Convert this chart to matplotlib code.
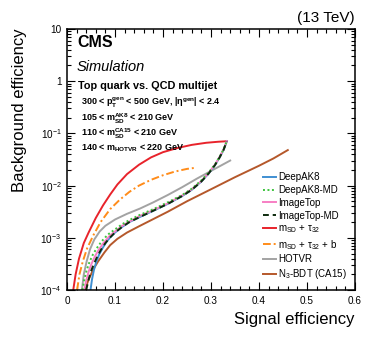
import numpy as np
import matplotlib
matplotlib.use("Agg")
import matplotlib.pyplot as plt
from matplotlib.lines import Line2D

plt.rcParams['font.family'] = ['Liberation Sans', 'DejaVu Sans']
plt.rcParams['mathtext.default'] = 'regular'

# ROC curves (signal eff., background eff.)
deepak8_x = [0.049, 0.052, 0.056, 0.061, 0.067, 0.074, 0.082, 0.09, 0.1, 0.115, 0.13, 0.152, 0.18, 0.21, 0.24,
             0.26, 0.28, 0.295, 0.308, 0.318, 0.326, 0.333]
deepak8_y = [1.0e-4, 1.58e-4, 2.4e-4, 3.47e-4, 4.79e-4, 6.31e-4, 8.32e-4, 1.02e-3, 1.26e-3, 1.62e-3, 2.0e-3,
             2.51e-3, 3.31e-3, 4.47e-3, 6.31e-3, 8.32e-3, 1.2e-2, 1.7e-2, 2.45e-2, 3.47e-2, 4.79e-2, 7.08e-2]
deepak8md_x = [0.032, 0.036, 0.041, 0.047, 0.054, 0.062, 0.072, 0.085, 0.1, 0.115, 0.13, 0.152, 0.18, 0.21, 0.24,
               0.26, 0.28, 0.295, 0.308, 0.318, 0.326, 0.333]
deepak8md_y = [1.0e-4, 1.58e-4, 2.4e-4, 3.47e-4, 4.79e-4, 6.31e-4, 8.51e-4, 1.15e-3, 1.45e-3, 1.82e-3, 2.19e-3,
               2.75e-3, 3.55e-3, 4.79e-3, 6.61e-3, 8.71e-3, 1.26e-2, 1.78e-2, 2.51e-2, 3.55e-2, 4.9e-2, 7.08e-2]
imagetop_x = [0.036, 0.04, 0.045, 0.051, 0.058, 0.066, 0.076, 0.088, 0.1, 0.115, 0.13, 0.152, 0.18, 0.21, 0.24,
              0.26, 0.28, 0.295, 0.308, 0.318, 0.326, 0.333]
imagetop_y = [1.0e-4, 1.51e-4, 2.24e-4, 3.16e-4, 4.37e-4, 5.89e-4, 7.94e-4, 1.07e-3, 1.32e-3, 1.7e-3, 2.04e-3,
              2.63e-3, 3.39e-3, 4.57e-3, 6.46e-3, 8.51e-3, 1.23e-2, 1.74e-2, 2.51e-2, 3.55e-2, 4.9e-2, 7.08e-2]
imagetopmd_x = [0.04, 0.045, 0.05, 0.056, 0.063, 0.07, 0.08, 0.09, 0.1, 0.115, 0.13, 0.152, 0.18, 0.21, 0.24,
                0.26, 0.28, 0.295, 0.308, 0.318, 0.326, 0.333]
imagetopmd_y = [1.0e-4, 1.58e-4, 2.29e-4, 3.16e-4, 4.37e-4, 5.75e-4, 7.94e-4, 1.02e-3, 1.26e-3, 1.62e-3, 2.0e-3,
                2.51e-3, 3.31e-3, 4.47e-3, 6.31e-3, 8.32e-3, 1.2e-2, 1.7e-2, 2.45e-2, 3.47e-2, 4.79e-2, 7.08e-2]
msdtau_x = [0.013, 0.018, 0.025, 0.035, 0.045, 0.06, 0.075, 0.09, 0.105, 0.125, 0.15, 0.175, 0.2, 0.23, 0.26,
            0.29, 0.315, 0.333]
msdtau_y = [1.0e-4, 2.0e-4, 3.98e-4, 7.94e-4, 1.26e-3, 2.4e-3, 4.17e-3, 6.76e-3, 1.05e-2, 1.66e-2, 2.51e-2,
            3.47e-2, 4.37e-2, 5.25e-2, 6.03e-2, 6.61e-2, 6.92e-2, 7.08e-2]
msdtaub_x = [0.021, 0.026, 0.033, 0.042, 0.055, 0.07, 0.09, 0.11, 0.13, 0.15, 0.175, 0.2, 0.225, 0.25, 0.267]
msdtaub_y = [1.0e-4, 2.0e-4, 3.55e-4, 6.31e-4, 1.12e-3, 2.0e-3, 3.55e-3, 5.37e-3, 7.59e-3, 1.0e-2, 1.29e-2,
             1.58e-2, 1.86e-2, 2.09e-2, 2.19e-2]
hotvr_x = [0.031, 0.035, 0.041, 0.048, 0.057, 0.068, 0.08, 0.1, 0.125, 0.152, 0.18, 0.21, 0.24, 0.27, 0.3,
           0.32, 0.34]
hotvr_y = [1.0e-4, 2.0e-4, 3.55e-4, 6.03e-4, 9.33e-4, 1.32e-3, 1.7e-3, 2.24e-3, 2.88e-3, 3.63e-3, 4.79e-3,
           6.61e-3, 9.33e-3, 1.35e-2, 1.91e-2, 2.4e-2, 3.02e-2]
n3bdt_x = [0.037, 0.045, 0.055, 0.065, 0.078, 0.09, 0.105, 0.125, 0.15, 0.18, 0.21, 0.25, 0.3, 0.35, 0.4, 0.43, 0.46]
n3bdt_y = [1.0e-4, 1.58e-4, 2.51e-4, 3.55e-4, 5.25e-4, 7.24e-4, 9.55e-4, 1.26e-3, 1.66e-3, 2.29e-3, 3.16e-3,
           5.01e-3, 8.51e-3, 1.45e-2, 2.4e-2, 3.31e-2, 4.79e-2]

labels = ['DeepAK8', 'DeepAK8-MD', 'ImageTop', 'ImageTop-MD',
          r'$m_{SD}$ + $\tau_{32}$', r'$m_{SD}$ + $\tau_{32}$ + b', 'HOTVR', r'N$_{3}$-BDT (CA15)']
xticks = [0, 0.1, 0.2, 0.3, 0.4, 0.5, 0.6]
xticklabels = ['0', '0.1', '0.2', '0.3', '0.4', '0.5', '0.6']
yticks = [1e-4, 1e-3, 1e-2, 1e-1, 1, 10]
yticklabels = [r'$10^{-4}$', r'$10^{-3}$', r'$10^{-2}$', r'$10^{-1}$', '1', '10']

W, H = 374, 343
fig = plt.figure(figsize=(W / 100, H / 100), dpi=100)
ax = fig.add_axes([67 / W, 1 - 290 / H, 288 / W, 261 / H])

def fx(px):
    return px / W

def fy(py):
    return 1 - py / H

lw = 1.4
styles = {
    'deepak8': dict(color='#3f8fd2', lw=lw),
    'deepak8md': dict(color='#3ec43e', lw=lw, ls=(0, (1, 1.3))),
    'imagetop': dict(color='#f77fc4', lw=lw),
    'imagetopmd': dict(color='#0d2b0d', lw=lw, ls=(0, (3, 2))),
    'msdtau': dict(color='#e8232b', lw=lw),
    'msdtaub': dict(color='#ff8c1a', lw=lw, ls=(0, (4, 1.5, 1, 1.5))),
    'hotvr': dict(color='#a3a3a3', lw=lw),
    'n3bdt': dict(color='#b5582b', lw=lw),
}

ax.plot(n3bdt_x, n3bdt_y, **styles['n3bdt'])
ax.plot(hotvr_x, hotvr_y, **styles['hotvr'])
ax.plot(msdtaub_x, msdtaub_y, **styles['msdtaub'])
ax.plot(msdtau_x, msdtau_y, **styles['msdtau'])
ax.plot(deepak8_x, deepak8_y, **styles['deepak8'])
ax.plot(imagetop_x, imagetop_y, **styles['imagetop'])
ax.plot(deepak8md_x, deepak8md_y, **styles['deepak8md'])
ax.plot(imagetopmd_x, imagetopmd_y, **styles['imagetopmd'])

ax.set_yscale('log')
ax.set_xlim(0, 0.6)
ax.set_ylim(1e-4, 10)
ax.set_xticks(xticks)
ax.set_xticklabels(xticklabels)
ax.set_yticks(yticks)
ax.set_yticklabels(yticklabels)
ax.xaxis.set_minor_locator(matplotlib.ticker.MultipleLocator(0.02))
ax.yaxis.set_minor_locator(matplotlib.ticker.LogLocator(base=10, subs=np.arange(2, 10)))
ax.yaxis.set_minor_formatter(matplotlib.ticker.NullFormatter())
ax.tick_params(which='both', direction='in', top=True, right=True, labelsize=7.2, width=0.8)
ax.tick_params(which='major', length=6, pad=4)
ax.tick_params(which='minor', length=3)
for s in ax.spines.values():
    s.set_linewidth(1.1)

# legend
order = ['deepak8', 'deepak8md', 'imagetop', 'imagetopmd', 'msdtau', 'msdtaub', 'hotvr', 'n3bdt']
handles = [Line2D([], [], **styles[k]) for k in order]
ax.legend(handles, labels, loc='lower left', bbox_to_anchor=((263 - 67) / 288, (290 - 281) / 261),
          frameon=False, fontsize=7, handlelength=1.3, handletextpad=0.25,
          labelspacing=0.28, borderpad=0, borderaxespad=0)

# texts
fig.text(fx(355), fy(22), '(13 TeV)', ha='right', va='baseline', fontsize=11)
fig.text(fx(20), fy(28), 'Background efficiency', rotation=90, ha='center', va='top', fontsize=12)
fig.text(fx(355), fy(324), 'Signal efficiency', ha='right', va='baseline', fontsize=12)
fig.text(fx(77), fy(47), 'CMS', fontweight='bold', fontsize=11.5, va='baseline')
fig.text(fx(77), fy(71), 'Simulation', style='italic', fontsize=10.5, va='baseline')
fig.text(fx(78), fy(89), 'Top quark vs. QCD multijet', fontweight='bold', fontsize=7.8, va='baseline')
fig.text(fx(81), fy(106), r'300 < $p_{T}^{gen}$ < 500 GeV, |$\eta^{gen}$| < 2.4', fontweight='bold', fontsize=6.5, va='baseline')
fig.text(fx(81), fy(121), r'105 < $m_{SD}^{AK8}$ < 210 GeV', fontweight='bold', fontsize=6.5, va='baseline')
fig.text(fx(81), fy(136), r'110 < $m_{SD}^{CA15}$ < 210 GeV', fontweight='bold', fontsize=6.5, va='baseline')
fig.text(fx(81), fy(151), r'140 < $m_{HOTVR}$ < 220 GeV', fontweight='bold', fontsize=6.5, va='baseline')

fig.savefig('out.png', dpi=100)
